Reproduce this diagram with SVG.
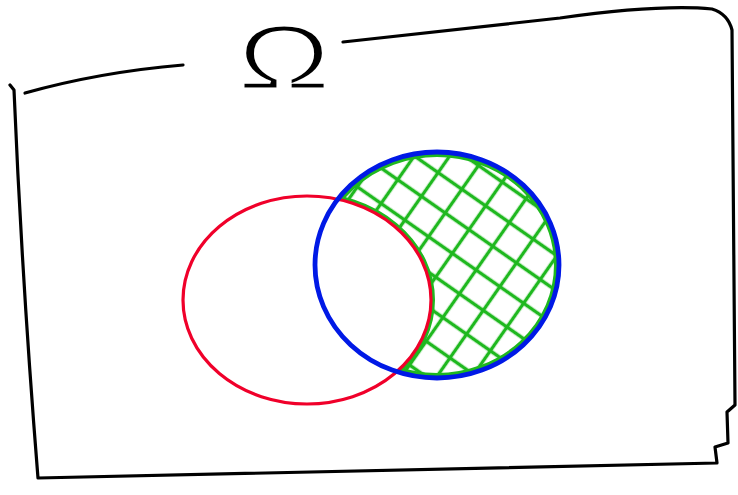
<svg xmlns="http://www.w3.org/2000/svg" width="738" height="495" viewBox="0 0 738 495">
<style>
.ink{fill:none;stroke:#000;stroke-width:3.2;stroke-linecap:round;stroke-linejoin:round}
.red{fill:none;stroke:#f0002a;stroke-width:3.2}
.blue{fill:none;stroke:#0019e6;stroke-width:4.8}
</style>
<defs>
<pattern id="hatch" width="29" height="29" patternUnits="userSpaceOnUse" patternTransform="translate(330,150) rotate(35)">
<path d="M0 14.5H29M14.5 0V29" stroke="#1fb81f" stroke-width="3.4" fill="none"/>
</pattern>
<mask id="crescent" maskUnits="userSpaceOnUse" x="0" y="0" width="738" height="495">
<ellipse cx="437" cy="265" rx="122" ry="113" fill="#fff"/>
<ellipse cx="307" cy="300" rx="124" ry="104" fill="#000"/>
</mask>
</defs>
<g id="universe">
<path class="ink" d="M10 85 L14 90 Q22 280 38 478 Q380 470 717 463 L715 447 L728 443 L727 412 L735 405 Q733 200 732 30 Q728 14 712 9 Q660 4 560 18 Q450 30 343 42"/>
<path class="ink" d="M25 93 Q100 72 183 65"/>
<text x="0" y="0" transform="translate(284,89) scale(1.4,1)" font-family="Liberation Sans, sans-serif" font-size="90" text-anchor="middle" fill="#000" stroke="#fff" stroke-width="3">Ω</text>
</g>
<g id="setB-minus-A" mask="url(#crescent)">
<rect x="300" y="140" width="280" height="250" fill="url(#hatch)"/>
<ellipse cx="437" cy="265" rx="122" ry="113" fill="none" stroke="#1fb81f" stroke-width="10"/>
<ellipse cx="307" cy="300" rx="124" ry="104" fill="none" stroke="#1fb81f" stroke-width="8"/>
</g>
<g id="setA">
<ellipse class="red" cx="307" cy="300" rx="124" ry="104"/>
</g>
<g id="setB">
<ellipse class="blue" cx="437" cy="265" rx="122" ry="113"/>
</g>
</svg>
